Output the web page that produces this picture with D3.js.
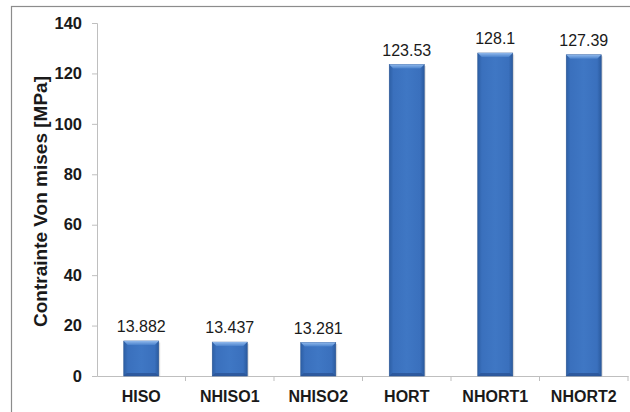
<!DOCTYPE html>
<html>
<head>
<meta charset="utf-8">
<script src="https://cdn.jsdelivr.net/npm/d3@7"></script>
<style>
  html, body { margin: 0; padding: 0; background: #fff; }
  svg { display: block; }
</style>
</head>
<body>
<svg id="chart" width="630" height="412"></svg>
<script>
const categories = ["HISO", "NHISO1", "NHISO2", "HORT", "NHORT1", "NHORT2"];
const values = [13.882, 13.437, 13.281, 123.53, 128.1, 127.39];
const valueLabels = ["13.882", "13.437", "13.281", "123.53", "128.1", "127.39"];
const yTicks = [0, 20, 40, 60, 80, 100, 120, 140];
const yTitle = "Contrainte Von mises [MPa]";

const FONT = "Liberation Sans, Arial, sans-serif";
const svg = d3.select("#chart");
const W = 630, H = 412;
const m = { left: 97, right: 2, top: 23, bottom: 36 };

// chart area frame
svg.append("rect")
  .attr("x", 11.5).attr("y", 6.5)
  .attr("width", W + 10).attr("height", H + 10)
  .attr("fill", "#fff").attr("stroke", "#8c8c8c").attr("stroke-width", 1.2);

const defs = svg.append("defs");
const grad = defs.append("linearGradient").attr("id", "barGrad")
  .attr("x1", "0").attr("x2", "1").attr("y1", "0").attr("y2", "0");
grad.append("stop").attr("offset", "0%").attr("stop-color", "#2d5fa5");
grad.append("stop").attr("offset", "12%").attr("stop-color", "#3a70bd");
grad.append("stop").attr("offset", "50%").attr("stop-color", "#3f77c4");
grad.append("stop").attr("offset", "88%").attr("stop-color", "#3a70bd");
grad.append("stop").attr("offset", "100%").attr("stop-color", "#2b5b9f");

const topGrad = defs.append("linearGradient").attr("id", "topGrad")
  .attr("x1", "0").attr("x2", "0").attr("y1", "0").attr("y2", "1");
topGrad.append("stop").attr("offset", "0%").attr("stop-color", "#8fb8ec");
topGrad.append("stop").attr("offset", "100%").attr("stop-color", "#4a82cc");

const x = d3.scaleBand().domain(categories)
  .range([m.left, W - m.right]).paddingInner(0).paddingOuter(0);
const y = d3.scaleLinear().domain([0, 140]).range([H - m.bottom, m.top]);

// y axis
const yAxis = svg.append("g").attr("transform", `translate(${m.left},0)`)
  .call(d3.axisLeft(y).tickValues(yTicks).tickSize(5).tickPadding(10));
yAxis.select(".domain").attr("stroke", "#bfbfbf");
yAxis.selectAll(".tick line").attr("stroke", "#bfbfbf");
yAxis.selectAll(".tick text")
  .attr("font-family", FONT)
  .attr("font-size", 16.5).attr("font-weight", "bold").attr("fill", "#1a1a1a");

// x axis
const xAxis = svg.append("g").attr("transform", `translate(0,${y(0)})`)
  .call(d3.axisBottom(x).tickSize(0).tickPadding(0));
xAxis.select(".domain").attr("stroke", "#bfbfbf");
xAxis.selectAll(".tick text")
  .attr("dy", null).attr("y", 26)
  .attr("font-family", FONT)
  .attr("font-size", 16).attr("font-weight", "bold").attr("fill", "#1a1a1a");
// category boundary ticks
xAxis.selectAll(".sep").data(categories)
  .enter().append("line").attr("class", "sep")
  .attr("x1", d => x(d) + x.bandwidth()).attr("x2", d => x(d) + x.bandwidth())
  .attr("y1", 0).attr("y2", 5).attr("stroke", "#bfbfbf");

// y title
svg.append("text")
  .attr("transform", `translate(47,${(y(0) + y(140)) / 2 + 2}) rotate(-90)`)
  .attr("text-anchor", "middle")
  .attr("font-family", FONT)
  .attr("font-size", 19).attr("font-weight", "bold").attr("fill", "#1a1a1a")
  .text(yTitle);

// bars with a bevelled top and soft shadow
const bw = 35;
const bars = svg.append("g").selectAll("g").data(categories).enter().append("g");
bars.append("rect")
  .attr("x", d => x(d) + x.bandwidth() / 2 - bw / 2 + 1.5)
  .attr("y", (d, i) => y(values[i]) + 1.5)
  .attr("width", bw).attr("height", (d, i) => y(0) - y(values[i]) - 1.5)
  .attr("fill", "#000").attr("opacity", 0.12);
bars.append("rect")
  .attr("x", d => x(d) + x.bandwidth() / 2 - bw / 2)
  .attr("y", (d, i) => y(values[i]))
  .attr("width", bw).attr("height", (d, i) => y(0) - y(values[i]))
  .attr("fill", "url(#barGrad)").attr("stroke", "#2a5593").attr("stroke-width", 0.6);
bars.append("path")
  .attr("d", (d, i) => {
    const x0 = x(d) + x.bandwidth() / 2 - bw / 2, y0 = y(values[i]);
    return `M${x0},${y0}L${x0 + bw},${y0}L${x0 + bw - 4},${y0 + 4}L${x0 + 4},${y0 + 4}Z`;
  })
  .attr("fill", "url(#topGrad)");
bars.append("path")
  .attr("d", d => {
    const x0 = x(d) + x.bandwidth() / 2 - bw / 2, y0 = y(0);
    return `M${x0},${y0}L${x0 + bw},${y0}L${x0 + bw - 3},${y0 - 3}L${x0 + 3},${y0 - 3}Z`;
  })
  .attr("fill", "#2a5496").attr("opacity", 0.8);

// value labels
svg.append("g").selectAll("text").data(categories).enter().append("text")
  .attr("x", d => x(d) + x.bandwidth() / 2)
  .attr("y", (d, i) => y(values[i]) - 9)
  .attr("text-anchor", "middle")
  .attr("font-family", FONT)
  .attr("font-size", 16).attr("fill", "#1a1a1a")
  .text((d, i) => valueLabels[i]);
</script>
</body>
</html>
